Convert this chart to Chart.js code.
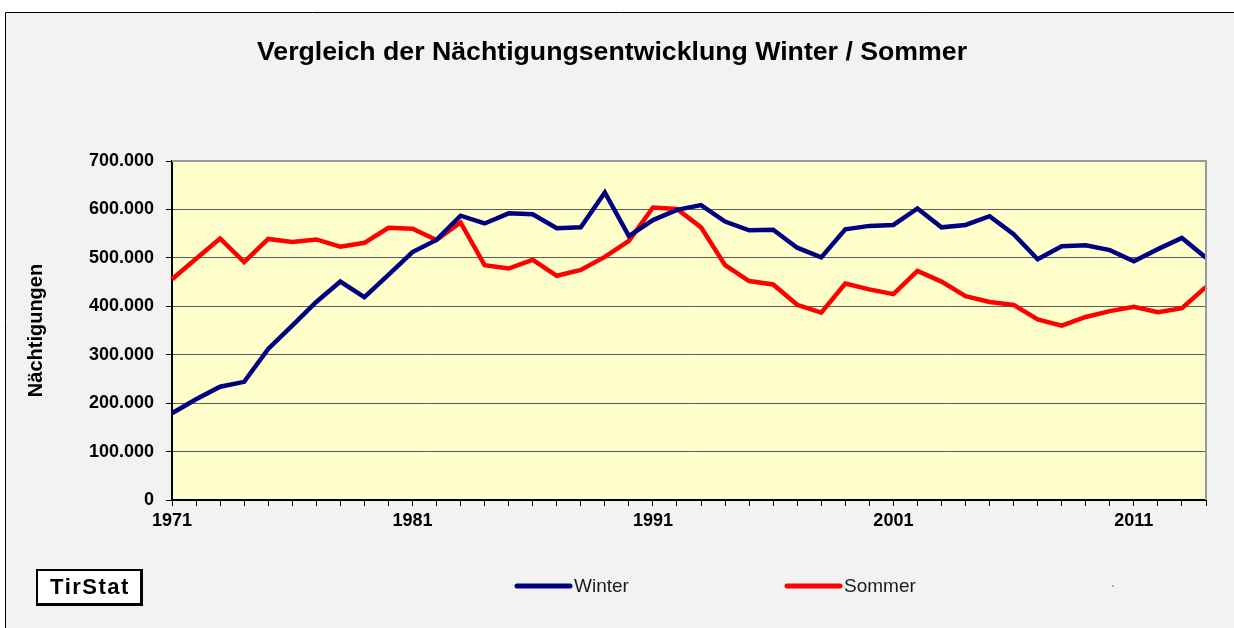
<!DOCTYPE html>
<html><head><meta charset="utf-8">
<script src="https://cdn.jsdelivr.net/npm/chart.js@4/dist/chart.umd.min.js"></script>
<style>html,body{margin:0;padding:0;background:#fff;overflow:hidden}</style>
</head><body>
<canvas id="c" width="1234" height="628"></canvas>
<script>
const years = ['1971','1972','1973','1974','1975','1976','1977','1978','1979','1980',
  '1981','1982','1983','1984','1985','1986','1987','1988','1989','1990',
  '1991','1992','1993','1994','1995','1996','1997','1998','1999','2000',
  '2001','2002','2003','2004','2005','2006','2007','2008','2009','2010',
  '2011','2012','2013','2014'];
const winter = [179000,208000,234000,244000,312000,360000,409000,451000,419000,465000,
  512000,537000,587000,571000,592000,590000,561000,563000,635000,545000,
  578000,599000,609000,575000,557000,558000,521000,501000,559000,566000,
  568000,602000,563000,568000,586000,549000,497000,524000,526000,516000,
  493000,518000,541000,500000];
const sommer = [456000,498000,540000,491000,539000,533000,538000,523000,531000,562000,
  560000,537000,573000,485000,478000,496000,463000,475000,502000,535000,
  604000,601000,563000,485000,452000,445000,403000,387000,447000,435000,
  425000,473000,451000,421000,409000,403000,373000,360000,378000,390000,
  399000,388000,396000,440000];
const seriesNames = ['Winter','Sommer'];
const titleText = 'Vergleich der Nächtigungsentwicklung Winter / Sommer';
const yAxisTitle = 'Nächtigungen';
const brandText = 'TirStat';

const FONT = "'Liberation Sans', Arial, sans-serif";
Chart.defaults.font.family = FONT;
Chart.defaults.color = '#000';

const deco = {
  id: 'deco',
  beforeDraw(chart) {
    const {ctx, chartArea: a} = chart;
    ctx.save();
    ctx.fillStyle = '#ffffff'; ctx.fillRect(0, 0, 1234, 628);
    ctx.fillStyle = '#f2f2f2'; ctx.fillRect(5, 12, 1229, 616);
    ctx.strokeStyle = '#000'; ctx.lineWidth = 1;
    ctx.beginPath(); ctx.moveTo(5.5, 628); ctx.lineTo(5.5, 12.5); ctx.lineTo(1234, 12.5); ctx.stroke();
    ctx.fillStyle = '#ffffcc'; ctx.fillRect(a.left, a.top, a.width, a.height);
    ctx.restore();
  },
  afterDraw(chart) {
    const {ctx, chartArea: a} = chart;
    ctx.save();
    ctx.strokeStyle = '#999999'; ctx.lineWidth = 2;
    ctx.beginPath(); ctx.moveTo(a.left, a.top); ctx.lineTo(a.right, a.top); ctx.lineTo(a.right, a.bottom); ctx.stroke();
    ctx.fillStyle = '#000';
    ctx.font = "bold 26.7px " + FONT;
    ctx.textAlign = 'center'; ctx.textBaseline = 'middle';
    ctx.fillText(titleText, 612, 53);
    const xs = [517, 787];
    chart.data.datasets.forEach((d, i) => {
      ctx.strokeStyle = d.borderColor; ctx.lineWidth = 5; ctx.lineCap = 'round';
      ctx.beginPath(); ctx.moveTo(xs[i], 586); ctx.lineTo(xs[i] + 53, 586); ctx.stroke();
      ctx.fillStyle = '#1a1a1a'; ctx.font = "19px " + FONT;
      ctx.textAlign = 'left'; ctx.textBaseline = 'middle';
      ctx.fillText(d.label, xs[i] + 57, 587);
    });
    ctx.fillStyle = '#b0b0b0'; ctx.fillRect(1112, 585, 2, 2);
    ctx.fillStyle = '#000'; ctx.fillRect(36, 569, 107, 37);
    ctx.fillStyle = '#fff'; ctx.fillRect(38, 571, 102, 32);
    ctx.fillStyle = '#000'; ctx.font = "bold 22px " + FONT;
    ctx.textAlign = 'center'; ctx.textBaseline = 'middle';
    if ('letterSpacing' in ctx) ctx.letterSpacing = '1.5px';
    ctx.fillText(brandText, 90, 588);
    ctx.restore();
  }
};

new Chart(document.getElementById('c'), {
  type: 'line',
  data: {
    labels: years,
    datasets: [
      {label: seriesNames[0], data: winter, borderColor: '#000080', backgroundColor: '#000080', borderWidth: 4.5, pointRadius: 0, tension: 0, fill: false},
      {label: seriesNames[1], data: sommer, borderColor: '#ff0000', backgroundColor: '#ff0000', borderWidth: 4.5, pointRadius: 0, tension: 0, fill: false}
    ]
  },
  options: {
    responsive: false,
    animation: false,
    devicePixelRatio: 1,
    layout: {padding: {top: 161, right: 28, bottom: 88, left: 0}},
    plugins: {legend: {display: false}, title: {display: false}, tooltip: {enabled: false}},
    scales: {
      x: {
        offset: false,
        afterFit(s) { s.height = 40; },
        border: {display: true, color: '#000', width: 2},
        grid: {display: true, drawOnChartArea: false, drawTicks: true, tickLength: 6, tickColor: '#000', color: '#000'},
        ticks: {
          autoSkip: false, maxRotation: 0, minRotation: 0, padding: 4,
          font: {size: 18, weight: 'bold'}, color: '#000',
          callback(v, i) { return i % 10 === 0 ? this.getLabelForValue(v) : ''; }
        }
      },
      y: {
        min: 0, max: 700000,
        afterFit(s) { s.width = 172; },
        border: {display: true, color: '#000', width: 2},
        grid: {color: '#5a5a5a', lineWidth: 1, tickLength: 6, tickColor: '#000'},
        title: {display: true, text: yAxisTitle, font: {size: 20, weight: 'bold'}, color: '#000', padding: {top: 24, bottom: 0}},
        ticks: {
          stepSize: 100000, padding: 12,
          font: {size: 18, weight: 'bold'}, color: '#000',
          callback(v) { return String(v).replace(/\B(?=(\d{3})+(?!\d))/g, '.'); }
        }
      }
    }
  },
  plugins: [deco]
});
</script>
</body></html>
